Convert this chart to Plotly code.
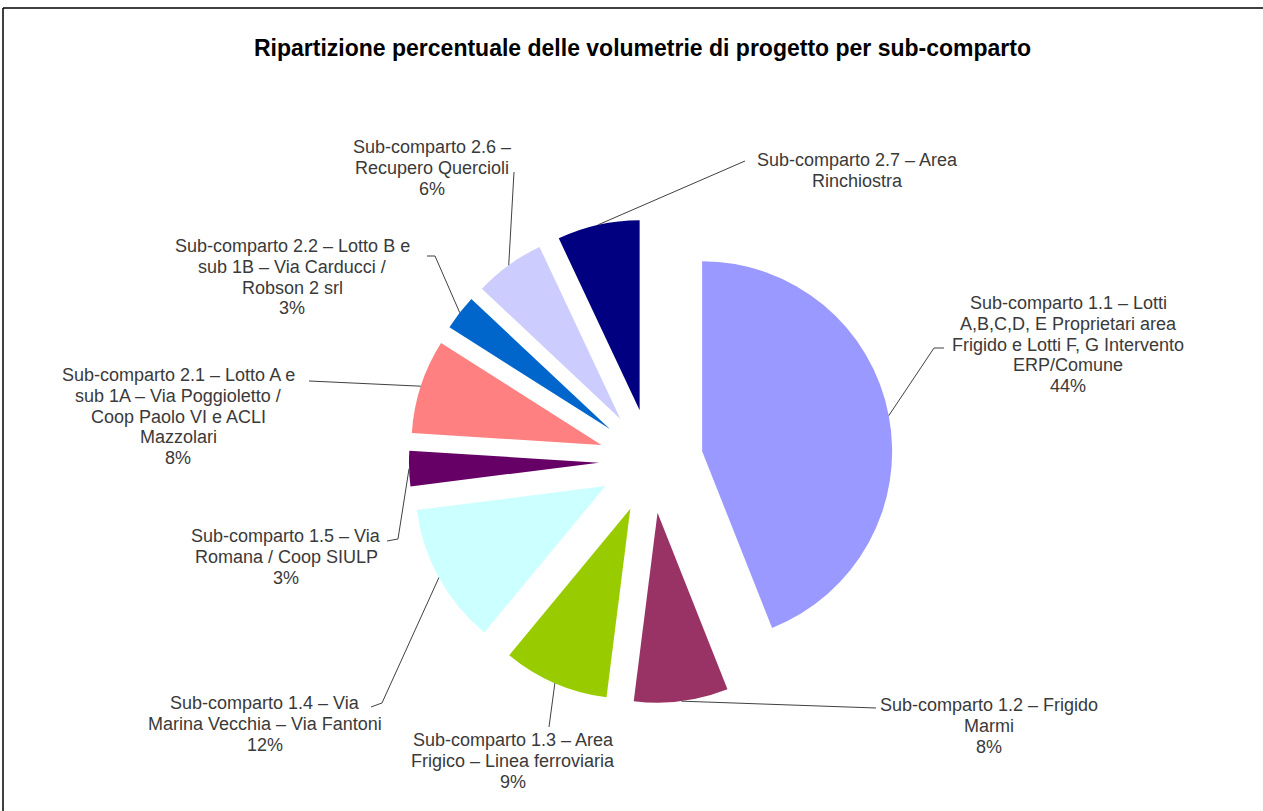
import math
import plotly.graph_objects as go

# ---------------- data ----------------
labels = [
    "Sub-comparto 1.1 – Lotti A,B,C,D, E Proprietari area Frigido e Lotti F, G Intervento ERP/Comune",
    "Sub-comparto 1.2 – Frigido Marmi",
    "Sub-comparto 1.3 – Area Frigico – Linea ferroviaria",
    "Sub-comparto 1.4 – Via Marina Vecchia – Via Fantoni",
    "Sub-comparto 1.5 – Via Romana / Coop SIULP",
    "Sub-comparto 2.1 – Lotto A e sub 1A – Via Poggioletto / Coop Paolo VI e ACLI Mazzolari",
    "Sub-comparto 2.2 – Lotto B e sub 1B – Via Carducci / Robson 2 srl",
    "Sub-comparto 2.6 – Recupero Quercioli",
    "Sub-comparto 2.7 – Area Rinchiostra",
]
values = [44, 8, 9, 12, 3, 8, 3, 6, 7]
colors = ["#9999FF", "#993366", "#99CC00", "#CCFFFF", "#660066",
          "#FF8080", "#0066CC", "#CCCCFF", "#000080"]
# label text as wrapped in the chart
label_lines = [
    ["Sub-comparto 1.1 – Lotti", "A,B,C,D, E Proprietari area", "Frigido e Lotti F, G Intervento", "ERP/Comune"],
    ["Sub-comparto 1.2 – Frigido", "Marmi"],
    ["Sub-comparto 1.3 – Area", "Frigico – Linea ferroviaria"],
    ["Sub-comparto 1.4 – Via", "Marina Vecchia – Via Fantoni"],
    ["Sub-comparto 1.5 – Via", "Romana / Coop SIULP"],
    ["Sub-comparto 2.1 – Lotto A e", "sub 1A – Via Poggioletto /", "Coop Paolo VI e ACLI", "Mazzolari"],
    ["Sub-comparto 2.2 – Lotto B e", "sub 1B – Via Carducci /", "Robson 2 srl"],
    ["Sub-comparto 2.6 –", "Recupero Quercioli"],
    ["Sub-comparto 2.7 – Area", "Rinchiostra"],
]
show_pct = [True, True, True, True, True, True, True, True, False]

# ---------------- layout constants ----------------
W, H = 1263, 811
CX, CY, R, PULL = 651, 461, 190, 0.274
HALF = R * (1 + PULL)
# label block: centre x, first-line y (pixels)
label_pos = [(1068, 303), (989, 705), (513, 740), (265, 703), (286, 536),
             (178, 375), (292, 246), (432, 147), (857, 160)]
LINE_STEP = 20.8
# leader line waypoints after the slice tip (pixels)
leader_pts = [
    [(934, 348), (944, 348)],
    [(876, 708)],
    [(549, 727)],
    [(382, 703), (371, 707)],
    [(398, 539), (387, 541)],
    [(309, 381)],
    [(435, 256), (427, 256)],
    [(514, 172)],
    [(745, 161)],
]
TEXT_COLOR = "#3a3a3a"
FONT = "Liberation Sans, Arial, sans-serif"


def px(x):
    return x / W


def py(y):
    return 1 - y / H


fig = go.Figure(go.Pie(
    labels=labels,
    values=values,
    marker=dict(colors=colors, line=dict(width=0)),
    sort=False,
    direction="clockwise",
    rotation=0,
    pull=[PULL] * len(values),
    textinfo="none",
    hoverinfo="label+percent",
    showlegend=False,
    domain=dict(x=[px(CX - HALF), px(CX + HALF)],
                y=[py(CY + HALF), py(CY - HALF)]),
))

annotations = []
shapes = []
total = sum(values)
cum = 0
for i, v in enumerate(values):
    mid = 2 * math.pi * (cum + v / 2) / total
    cum += v
    tx = CX + (1 + PULL) * R * math.sin(mid)
    ty = CY - (1 + PULL) * R * math.cos(mid)
    pts = [(tx, ty)] + leader_pts[i]
    path = "M " + " L ".join(f"{px(a):.5f},{py(b):.5f}" for a, b in pts)
    shapes.append(dict(type="path", path=path, xref="paper", yref="paper",
                       line=dict(color="#404040", width=1)))
    lines = list(label_lines[i])
    if show_pct[i]:
        lines.append(f"{round(100 * v / total)}%")
    lx, ly = label_pos[i]
    for k, t in enumerate(lines):
        annotations.append(dict(
            text=t, x=px(lx), y=py(ly + k * LINE_STEP), xref="paper", yref="paper",
            xanchor="center", yanchor="middle", showarrow=False,
            font=dict(family=FONT, size=18, color=TEXT_COLOR)))

annotations.append(dict(
    text="<b>Ripartizione percentuale delle volumetrie di progetto per sub-comparto</b>",
    x=px(642), y=py(48), xref="paper", yref="paper", xanchor="center", yanchor="middle",
    showarrow=False, font=dict(family=FONT, size=23, color="#000000")))

# chart frame (top and left edges visible)
shapes.append(dict(type="line", xref="paper", yref="paper",
                   x0=px(3), y0=py(8), x1=1.0, y1=py(8), line=dict(color="black", width=1.5)))
shapes.append(dict(type="line", xref="paper", yref="paper",
                   x0=px(3), y0=py(8), x1=px(3), y1=0.0, line=dict(color="black", width=1.5)))

fig.update_layout(
    width=W, height=H,
    margin=dict(l=0, r=0, t=0, b=0),
    paper_bgcolor="white", plot_bgcolor="white",
    annotations=annotations, shapes=shapes,
)

fig.write_html("out.html")
